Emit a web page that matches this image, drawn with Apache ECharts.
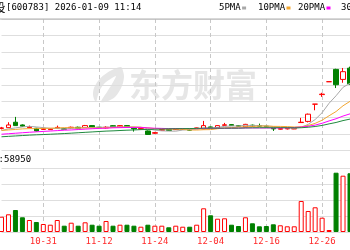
<!DOCTYPE html>
<html><head><meta charset="utf-8">
<script src="https://cdn.jsdelivr.net/npm/echarts@6/dist/echarts.min.js"></script>
<style>html,body{margin:0;padding:0;background:#fff}#c{width:350px;height:250px}</style>
</head><body><div id="c"></div>
<script>
const dates = ['10-23','10-24','10-27','10-28','10-29','10-30','10-31','11-03','11-04','11-05','11-06','11-07','11-10','11-11','11-12','11-13','11-14','11-17','11-18','11-19','11-20','11-21','11-24','11-25','11-26','11-27','11-28','12-01','12-02','12-03','12-04','12-05','12-08','12-09','12-10','12-11','12-12','12-15','12-16','12-17','12-18','12-19','12-22','12-23','12-24','12-25','12-26','12-29','12-30','12-31','01-05'];
const tickLabels = ['10-31','11-12','11-24','12-04','12-16','12-26'];
const opens  = [10.69,10.78,11.44,11.11,10.78,10.71,10.56,10.54,10.71,10.66,10.75,10.83,10.78,11.03,10.83,10.75,11.02,10.87,11.03,10.71,10.60,10.38,10.10,10.45,10.54,10.54,10.59,10.63,10.66,10.63,10.87,10.75,11.06,11.15,11.03,10.87,11.08,11.03,10.96,10.71,10.59,10.63,10.62,11.40,11.54,13.64,14.80,16.37,17.87,16.65,18.02];
const closes = [10.75,11.11,11.03,10.96,10.87,10.38,10.69,10.63,10.81,10.59,10.83,10.71,11.03,10.83,10.78,10.83,10.89,11.03,10.87,10.63,10.69,9.95,10.17,10.54,10.44,10.63,10.66,10.47,10.75,11.03,10.75,11.03,11.13,11.03,10.96,11.18,10.96,10.96,10.87,10.63,10.66,10.69,10.68,11.44,12.42,13.64,14.86,16.37,16.00,17.59,16.12];
const lows   = [10.56,10.75,10.99,10.87,10.71,10.32,10.50,10.50,10.69,10.54,10.66,10.63,10.75,10.78,10.71,10.66,10.87,10.83,10.83,10.30,10.54,9.89,10.02,10.42,10.38,10.50,10.54,10.42,10.63,10.59,10.71,10.71,11.03,10.99,10.91,10.83,10.91,10.91,10.83,10.38,10.54,10.56,10.60,11.36,11.42,12.89,14.53,16.37,15.60,16.24,16.00];
const highs  = [10.87,11.44,12.09,11.18,11.03,10.75,10.75,10.66,11.03,10.71,10.91,10.91,11.11,11.08,10.87,10.96,11.08,11.08,11.08,10.75,10.75,10.44,10.26,10.59,10.59,10.66,10.71,10.66,10.78,11.60,10.91,11.08,11.36,11.20,11.08,11.24,11.15,11.27,10.99,10.75,10.71,10.75,10.75,11.97,12.49,13.64,15.02,16.37,17.95,18.04,18.20];
const volumes = [95600,110600,137500,91900,75000,62500,50000,45600,75000,39400,58100,39400,60600,45600,39400,68800,39400,45600,45600,39400,33100,45600,39400,39400,29400,39400,33100,33100,45600,148100,104400,83100,85600,45600,37500,91900,54400,35600,37500,48100,41900,35600,35600,193800,131300,154400,89400,12500,370600,351900,366900];
const ma5  = [10.44,10.63,10.75,10.87,10.94,10.87,10.78,10.70,10.67,10.61,10.71,10.71,10.80,10.80,10.83,10.83,10.87,10.87,10.88,10.85,10.82,10.64,10.47,10.39,10.36,10.35,10.49,10.55,10.59,10.71,10.74,10.81,10.93,10.99,10.98,11.07,11.04,11.02,10.98,10.92,10.81,10.76,10.70,10.82,11.18,11.77,12.60,13.75,14.66,15.69,16.18];
const ma10 = [10.44,10.50,10.56,10.63,10.66,10.66,10.69,10.71,10.75,10.78,10.78,10.75,10.75,10.74,10.72,10.77,10.80,10.83,10.85,10.85,10.83,10.75,10.66,10.64,10.60,10.59,10.56,10.50,10.49,10.53,10.54,10.65,10.74,10.78,10.85,10.89,10.92,10.97,10.98,10.94,10.93,10.91,10.86,10.89,11.04,11.30,11.69,12.23,12.74,13.44,13.98];
const ma20 = [9.98,10.04,10.10,10.16,10.22,10.27,10.32,10.37,10.42,10.47,10.50,10.55,10.60,10.65,10.69,10.72,10.76,10.78,10.80,10.81,10.81,10.75,10.71,10.69,10.66,10.67,10.67,10.67,10.66,10.69,10.69,10.70,10.70,10.71,10.72,10.74,10.75,10.74,10.74,10.74,10.74,10.77,10.80,10.85,10.94,11.09,11.31,11.60,11.86,12.19,12.46];
const ma30 = [9.67,9.72,9.77,9.82,9.87,9.91,9.94,9.98,10.02,10.06,10.11,10.16,10.21,10.26,10.31,10.36,10.39,10.43,10.47,10.50,10.54,10.56,10.59,10.61,10.64,10.65,10.66,10.67,10.69,10.72,10.72,10.71,10.72,10.72,10.72,10.75,10.76,10.77,10.77,10.77,10.77,10.77,10.76,10.77,10.83,10.92,11.05,11.24,11.41,11.64,11.82];
const legendNames = ['5PMA','10PMA','20PMA','30PMA'];
const titleText = '[600783] 2026-01-09 11:14';
const volText = ':58950';

const RED = '#ff0000', GREEN = '#008000';
const maColors = ['#a8a8a8','#f2a630','#ff00ff','#1f8a3e'];
const mono = '"DejaVu Sans Mono","Noto Sans CJK SC",monospace';

const kData = opens.map((o,i)=>[o, closes[i], lows[i], highs[i]]);
const isUp = i => closes[i] > opens[i] || (closes[i] === opens[i] && (i === 0 || closes[i] >= closes[i-1]));
const volData = volumes.map((v,i)=>({value:v, itemStyle: isUp(i) ? {color:'#fff', borderColor:RED, borderWidth:1} : {color:GREEN, borderColor:GREEN, borderWidth:1}}));
const showTick = (idx, val) => tickLabels.indexOf(val) >= 0;

const chart = echarts.init(document.getElementById('c'), null, {renderer:'canvas'});
const legendX = [219, 258, 298, 341];
const logoPts = [[121,67],[112,70],[104,75],[98,81],[94,88],[93,94],[94,99],[96,102],[98,95],[101,88],[106,82],[112,78],[116,76],[112,84],[107,92],[101,102],[108,101],[115,97],[120,90],[123,83],[124,76],[123,71]];
const graphics = [
  {type:'text', x:-5.5, y:8, z:10, style:{text:'投', font:'11px "Noto Sans CJK SC"', fill:'#000', verticalAlign:'middle'}},
  {type:'text', x:6, y:8, z:10, style:{text:titleText, font:'9px '+mono, fill:'#000', verticalAlign:'middle'}},
  {type:'text', x:-1.4, y:160, z:10, style:{text:volText, font:'9px '+mono, fill:'#000', verticalAlign:'middle'}},
  {type:'line', z:10, shape:{x1:0,y1:19,x2:350,y2:19}, style:{stroke:'#b0b0b0', lineWidth:1}},
  {type:'polygon', z:-1, silent:true, shape:{points:logoPts, smooth:0.3}, style:{fill:'#e6e6e6'}},
  {type:'text', z:-1, silent:true, x:129, y:85, style:{text:'东方财富', font:'bold 32px "Noto Sans CJK SC"', fill:'#e6e6e6', verticalAlign:'middle'}}
];
legendNames.forEach((n,k)=>{
  graphics.push({type:'text', x:legendX[k], y:8, z:10, style:{text:n, font:'9px '+mono, fill:'#000', verticalAlign:'middle'}});
  graphics.push({type:'rect', z:10, shape:{x:legendX[k]+n.length*5.4+1.5, y:6.5, width:4, height:3}, style:{fill:maColors[k]}});
});

const xCommon = {type:'category', data:dates, boundaryGap:false, axisLine:{show:false}, axisTick:{show:false},
  splitLine:{show:true, interval:showTick, lineStyle:{color:'#c8c8c8', width:1, type:[4,3]}}};

chart.setOption({
  animation:false,
  backgroundColor:'#fff',
  grid:[
    {left:1.5, right:-0.5, top:19, height:131.5},
    {left:1.5, right:-0.5, top:168, height:64}
  ],
  xAxis:[
    Object.assign({gridIndex:0, axisLabel:{show:false}}, xCommon),
    Object.assign({gridIndex:1, axisLabel:{show:true, interval:showTick, hideOverlap:false, color:'#ff2a2a', fontSize:9, fontFamily:mono, margin:5}}, xCommon)
  ],
  yAxis:[
    {gridIndex:0, type:'value', min:8, max:24, interval:2, axisLabel:{show:false}, axisLine:{show:false}, axisTick:{show:false}, splitLine:{lineStyle:{color:'#dedede', width:1}}},
    {gridIndex:1, type:'value', min:0, max:400000, interval:100000, axisLabel:{show:false}, axisLine:{show:false}, axisTick:{show:false}, splitLine:{lineStyle:{color:'#dedede', width:1}}}
  ],
  series:[
    {type:'candlestick', xAxisIndex:0, yAxisIndex:0, data:kData, barWidth:5, clip:false,
      itemStyle:{color:'#fff', color0:GREEN, borderColor:RED, borderColor0:GREEN, borderWidth:1}},
    {type:'line', name:legendNames[0], data:ma5, symbol:'none', lineStyle:{color:maColors[0], width:1}, z:3},
    {type:'line', name:legendNames[1], data:ma10, symbol:'none', lineStyle:{color:maColors[1], width:1}, z:3},
    {type:'line', name:legendNames[2], data:ma20, symbol:'none', lineStyle:{color:maColors[2], width:1}, z:3},
    {type:'line', name:legendNames[3], data:ma30, symbol:'none', lineStyle:{color:maColors[3], width:1}, z:3},
    {type:'bar', xAxisIndex:1, yAxisIndex:1, data:volData, barWidth:5, clip:false}
  ],
  graphic:graphics
});
</script></body></html>
